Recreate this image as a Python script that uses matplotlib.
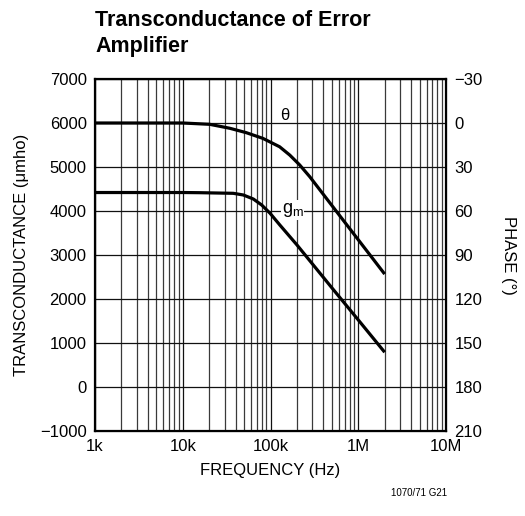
import numpy as np
import matplotlib.pyplot as plt
from matplotlib.ticker import FixedLocator, NullFormatter

plt.rcParams['font.family'] = ['Liberation Sans Narrow', 'Liberation Sans', 'DejaVu Sans']

# transconductance (umho) vs frequency (Hz)
gm_freq = [1e3, 1e4, 1.57e4, 3.77e4, 4.9e4, 6.37e4, 7.94e4, 9.87e4, 1.28e5, 1.53e5,
           2e5, 5e5, 1e6, 2e6]
gm_vals = [4420, 4420, 4416, 4402, 4364, 4273, 4136, 3950, 3680, 3500,
           3230, 2255, 1525, 790]

# phase (deg) vs frequency (Hz)
ph_freq = [1e3, 1e4, 2.03e4, 3.44e4, 5.3e4, 8.2e4, 1.27e5, 1.66e5, 2.15e5, 2.8e5,
           5e5, 1e6, 2e6]
ph_vals = [0, 0, 0.9, 3.6, 6.6, 10.5, 16.2, 21.9, 28.6, 36.6,
           56.2, 79.6, 103]

left_ticks = [-1000, 0, 1000, 2000, 3000, 4000, 5000, 6000, 7000]
right_ticks = [-30, 0, 30, 60, 90, 120, 150, 180, 210]
x_ticks = [1e3, 1e4, 1e5, 1e6, 1e7]
x_labels = ['1k', '10k', '100k', '1M', '10M']

fig = plt.figure(figsize=(5.25, 5.16), dpi=100)
ax = fig.add_axes([95/525, 1-431/516, 351/525, 352/516])
ax.set_xscale('log')
ax.set_xlim(1e3, 1e7)
ax.set_ylim(-1000, 7000)

minors = [m * 10**d for d in range(3, 7) for m in range(2, 10)]
ax.xaxis.set_minor_locator(FixedLocator(minors))
ax.xaxis.set_minor_formatter(NullFormatter())
ax.set_xticks(x_ticks)
ax.set_xticklabels(x_labels)
ax.set_yticks(left_ticks)
ax.set_yticklabels([str(t).replace('-', '\u2212') for t in left_ticks])
ax.grid(True, which='minor', axis='x', color='#3a3a3a', lw=0.9)
ax.grid(True, which='major', axis='both', color='#111111', lw=0.9)
ax.tick_params(which='both', length=0, labelsize=12, pad=6)
for s in ax.spines.values():
    s.set_linewidth(1.6)

ax.plot(gm_freq, gm_vals, color='black', lw=2.3, solid_capstyle='butt')

ax2 = ax.twinx()
ax2.set_ylim(210, -30)
ax2.set_yticks(right_ticks)
ax2.set_yticklabels([str(t).replace('-', '\u2212') for t in right_ticks])
ax2.tick_params(length=0, labelsize=12, pad=6)
ax2.plot(ph_freq, ph_vals, color='black', lw=2.3, solid_capstyle='butt')

ax2.text(1.46e5, -5, '\u03b8', fontsize=12, ha='center', va='center')
ax.text(1.78e5, 4020, 'g$_\\mathregular{m}$', fontsize=13, ha='center', va='center',
        bbox=dict(facecolor='white', edgecolor='none', pad=0.5))

ax.set_xlabel('FREQUENCY (Hz)', fontsize=12, labelpad=6)
ax.set_ylabel('TRANSCONDUCTANCE (\u03bcmho)', fontsize=12, labelpad=8)
ax2.set_ylabel('PHASE (\u00b0)', fontsize=12, rotation=-90, labelpad=24)

fig.text(95/525, 1-10/516, 'Transconductance of Error\nAmplifier', fontsize=15.5,
         fontweight='bold', ha='left', va='top', linespacing=1.3)
fig.text(447/525, 1-493/516, '1070/71 G21', fontsize=7, ha='right', va='center')

fig.savefig('out.png', dpi=100)
